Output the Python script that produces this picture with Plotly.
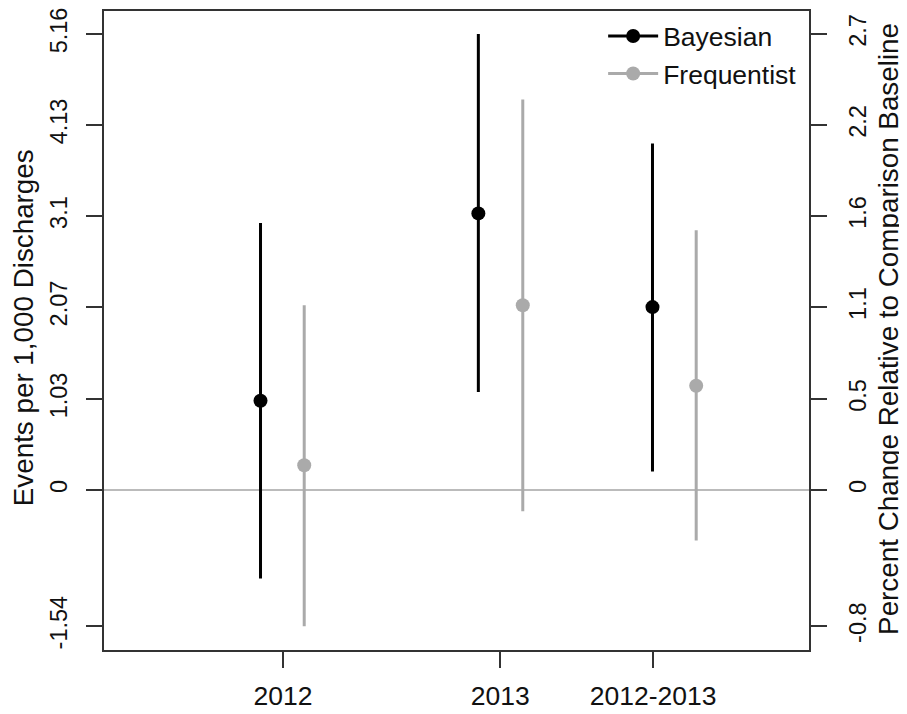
import plotly.graph_objects as go

# ---- data ----
groups = ["2012", "2013", "2012-2013"]
group_x = [2.54, 5.62, 7.79]          # axis positions of the group ticks
bayes_x = [2.22, 5.31, 7.78]
freq_x = [2.84, 5.94, 8.40]

bayes_est = [1.01, 3.13, 2.07]
bayes_lo = [-1.00, 1.11, 0.21]
bayes_hi = [3.02, 5.16, 3.92]

freq_est = [0.28, 2.09, 1.18]
freq_lo = [-1.54, -0.24, -0.57]
freq_hi = [2.09, 4.42, 2.94]

left_ticks = [-1.54, 0, 1.03, 2.07, 3.1, 4.13, 5.16]
left_labels = ["-1.54", "0", "1.03", "2.07", "3.1", "4.13", "5.16"]
right_labels = ["-0.8", "0", "0.5", "1.1", "1.6", "2.2", "2.7"]

y_title = "Events per 1,000 Discharges"
y2_title = "Percent Change Relative to Comparison Baseline"

BLACK = "#000000"
GRAY = "#AAAAAA"
AXIS = "#333333"
FONT = "Liberation Sans, Arial, sans-serif"
FS = 26.5
YTICK_FS = 23.5

fig = go.Figure()

def add_series(xs, est, lo, hi, color, name):
    fig.add_trace(go.Scatter(
        x=xs, y=est, mode="markers",
        marker=dict(color=color, size=14),
        error_y=dict(type="data", symmetric=False,
                     array=[h - e for h, e in zip(hi, est)],
                     arrayminus=[e - l for e, l in zip(est, lo)],
                     width=0, thickness=3, color=color),
        showlegend=False, name=name))
    fig.add_trace(go.Scatter(
        x=[None], y=[None], mode="lines+markers", name=name,
        line=dict(color=color, width=3),
        marker=dict(color=color, size=14)))

add_series(bayes_x, bayes_est, bayes_lo, bayes_hi, BLACK, "Bayesian")
add_series(freq_x, freq_est, freq_lo, freq_hi, GRAY, "Frequentist")

# invisible trace to activate the right axis
fig.add_trace(go.Scatter(x=[None], y=[None], yaxis="y2", showlegend=False))

yrange = [-1.81, 5.42]

fig.update_layout(
    width=899, height=706,
    margin=dict(l=96, r=98, t=3, b=64),
    paper_bgcolor="white", plot_bgcolor="white",
    font=dict(family=FONT, size=FS, color="#111111"),
    showlegend=True,
    legend=dict(x=0.708, y=0.998, xanchor="left", yanchor="top",
                bgcolor="rgba(0,0,0,0)", font=dict(size=FS),
                tracegroupgap=0, itemwidth=50),
    xaxis=dict(range=[0, 10], tickvals=group_x, ticktext=groups,
               ticks="outside", ticklen=16, tickwidth=1.5, tickcolor=AXIS,
               ticklabelstandoff=5, automargin=False,
               showline=True, linecolor=AXIS, linewidth=1.5, mirror=True,
               showgrid=False, zeroline=False, fixedrange=True),
    yaxis=dict(range=yrange, tickvals=left_ticks, ticktext=left_labels,
               tickangle=-90, ticks="outside", ticklen=16, tickwidth=1.5,
               tickfont=dict(size=YTICK_FS),
               tickcolor=AXIS, showline=True, linecolor=AXIS, linewidth=1.5,
               ticklabelstandoff=10, ticklabeloverflow="allow", automargin=False,
               showgrid=False, zeroline=True, zerolinecolor="#BBBBBB",
               zerolinewidth=1.5),
    yaxis2=dict(range=yrange, overlaying="y", side="right",
                tickvals=left_ticks, ticktext=right_labels,
                tickangle=-90, ticks="outside", ticklen=16, tickwidth=1.5,
                tickfont=dict(size=YTICK_FS),
                tickcolor=AXIS, showline=True, linecolor=AXIS, linewidth=1.5,
                ticklabelstandoff=11, ticklabeloverflow="allow", automargin=False,
                showgrid=False, zeroline=False),
    annotations=[
        dict(text=y_title, xref="paper", yref="paper", x=-0.115, y=0.505,
             xanchor="center", yanchor="middle", textangle=-90,
             showarrow=False, font=dict(size=27.8)),
        dict(text=y2_title, xref="paper", yref="paper", x=1.113, y=0.502,
             xanchor="center", yanchor="middle", textangle=-90,
             showarrow=False, font=dict(size=27.8)),
    ],
)

fig.write_html("out.html")
